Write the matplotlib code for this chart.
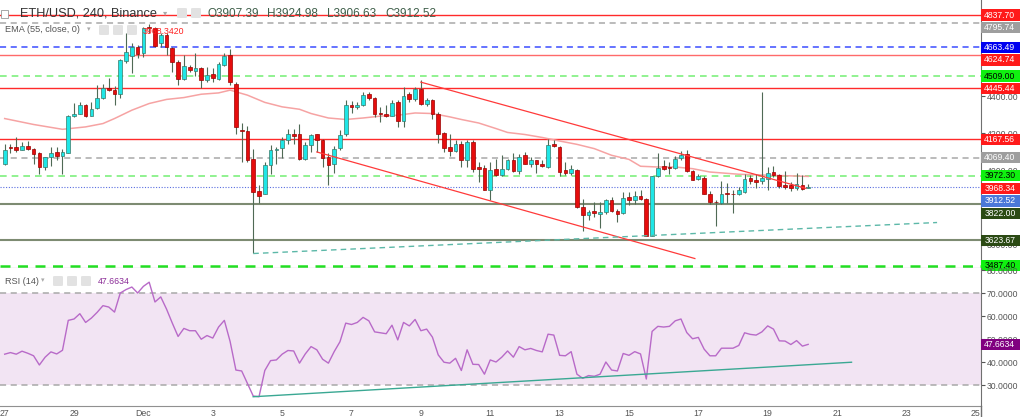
import matplotlib
matplotlib.use('Agg')
import matplotlib.pyplot as plt
from matplotlib.patches import Rectangle, FancyBboxPatch
from matplotlib.lines import Line2D
import numpy as np

plt.rcParams['font.family'] = ['Liberation Sans', 'DejaVu Sans']

# ---- ETH/USD 4h candles (Nov 27 -> Dec 20) ----
opens = [4033, 4125, 4127, 4113, 4132, 4115, 4094, 4019, 4071, 4100,
         4077, 4097, 4296, 4307, 4352, 4296, 4337, 4388, 4445, 4433,
         4411, 4591, 4618, 4667, 4631, 4775, 4766, 4685, 4730, 4661,
         4586, 4491, 4559, 4535, 4550, 4487, 4519, 4491, 4568, 4622,
         4464, 4219, 4213, 4064, 3889, 3875, 4032, 4113, 4124, 4167,
         4199, 4195, 4064, 4136, 4195, 4163, 4073, 4037, 4121, 4199,
         4352, 4340, 4352, 4411, 4391, 4312, 4307, 4294, 4370, 4267,
         4410, 4383, 4438, 4356, 4379, 4307, 4202, 4127, 4105, 4141,
         4055, 4154, 4019, 4013, 3893, 4010, 3974, 4010, 4055, 3997,
         4086, 4037, 4055, 4033, 4019, 4141, 4127, 4001, 3986, 4005,
         3803, 3758, 3780, 3764, 3776, 3839, 3780, 3771, 3857, 3843,
         3861, 3848, 3650, 3969, 4023, 4016, 4016, 4070, 4087, 3997,
         3956, 3962, 3872, 3830, 3825, 3875, 3875, 3871, 3884, 3960,
         3947, 3942, 3956, 3992, 3978, 3924, 3924, 3908, 3920, 3907.39]
highs = [4145, 4145, 4179, 4154, 4158, 4120, 4100, 4073, 4127, 4127,
         4118, 4300, 4364, 4370, 4357, 4370, 4460, 4464, 4499, 4455,
         4599, 4739, 4687, 4676, 4775, 4789, 4775, 4739, 4739, 4667,
         4595, 4622, 4568, 4631, 4559, 4559, 4550, 4586, 4631, 4652,
         4476, 4255, 4239, 4114, 3920, 4046, 4136, 4127, 4181, 4226,
         4221, 4249, 4154, 4199, 4199, 4172, 4093, 4131, 4217, 4379,
         4375, 4370, 4424, 4424, 4397, 4343, 4352, 4379, 4379, 4451,
         4424, 4451, 4487, 4388, 4383, 4316, 4208, 4199, 4163, 4159,
         4163, 4163, 4046, 4028, 4046, 4064, 4082, 4064, 4097, 4091,
         4100, 4073, 4059, 4055, 4172, 4167, 4131, 4046, 4028, 4010,
         3848, 3785, 3830, 3830, 3848, 3857, 3794, 3884, 3884, 3889,
         3897, 3852, 3969, 4094, 4055, 4046, 4077, 4105, 4109, 4005,
         3983, 3969, 3889, 3839, 3942, 3932, 3893, 3911, 3983, 3974,
         3980, 4424, 4019, 4023, 3983, 3997, 3938, 3989, 3974, 3924.98]
lows = [4028, 4093, 4098, 4109, 4109, 4033, 3980, 4005, 4023, 4055,
        3980, 4094, 4289, 4303, 4286, 4293, 4334, 4383, 4429, 4352,
        4393, 4577, 4526, 4604, 4613, 4739, 4667, 4667, 4622, 4532,
        4460, 4487, 4532, 4508, 4442, 4478, 4478, 4487, 4562, 4460,
        4195, 4046, 4046, 3555, 3825, 3872, 3980, 4037, 4070, 4141,
        4141, 4059, 4059, 4100, 4100, 4019, 3924, 3986, 4109, 4185,
        4310, 4334, 4347, 4379, 4289, 4262, 4286, 4293, 4232, 4232,
        4370, 4375, 4352, 4347, 4280, 4149, 4100, 4077, 4100, 4019,
        4019, 3992, 3938, 3893, 3843, 3969, 3969, 4001, 3992, 3983,
        4033, 4019, 3986, 4019, 4016, 4127, 3969, 3974, 3974, 3800,
        3673, 3731, 3749, 3692, 3767, 3776, 3722, 3767, 3812, 3821,
        3843, 3645, 3645, 3965, 4001, 3980, 4010, 4055, 3992, 3947,
        3951, 3872, 3818, 3700, 3821, 3825, 3771, 3866, 3879, 3929,
        3908, 3929, 3897, 3965, 3908, 3902, 3889, 3893, 3893, 3906.63]
closes = [4113, 4124, 4113, 4132, 4115, 4087, 4019, 4071, 4094, 4077,
          4098, 4296, 4305, 4352, 4293, 4334, 4388, 4445, 4433, 4411,
          4595, 4640, 4667, 4627, 4766, 4766, 4670, 4730, 4667, 4586,
          4491, 4562, 4541, 4550, 4487, 4514, 4501, 4573, 4618, 4478,
          4235, 4215, 4055, 3884, 3862, 4032, 4113, 4115, 4167, 4195,
          4188, 4064, 4136, 4190, 4167, 4070, 4032, 4118, 4190, 4352,
          4343, 4352, 4406, 4388, 4307, 4303, 4294, 4366, 4267, 4400,
          4383, 4438, 4356, 4379, 4307, 4199, 4124, 4105, 4141, 4055,
          4154, 4010, 4010, 3897, 4005, 3974, 4010, 4055, 3997, 4073,
          4037, 4055, 4033, 4023, 4136, 4132, 3992, 3986, 4010, 3803,
          3762, 3776, 3771, 3776, 3839, 3780, 3764, 3854, 3843, 3861,
          3846, 3650, 3969, 4016, 4010, 4014, 4064, 4082, 3997, 3951,
          3969, 3875, 3830, 3828, 3875, 3873, 3871, 3893, 3956, 3943,
          3940, 3960, 3989, 3974, 3919, 3911, 3908, 3926, 3902, 3912.52]

# EMA(55) at some candles
ema_idx = [0, 5, 10, 14, 17, 19, 22, 25, 28, 31, 34, 37, 39, 42, 45, 48, 51,
           53, 56, 59, 62, 65, 68, 71, 74, 77, 79, 82, 85, 87, 90, 93, 96, 99,
           102, 105, 108, 110, 113, 116, 119, 122, 127, 133, 139]
ema_val = [4280, 4248, 4222, 4235, 4253, 4280, 4325, 4361, 4383, 4393, 4411,
           4418, 4433, 4406, 4367, 4343, 4330, 4307, 4283, 4275, 4283, 4293,
           4298, 4310, 4307, 4289, 4275, 4256, 4226, 4205, 4194, 4178, 4159,
           4141, 4118, 4082, 4060, 4023, 4019, 4019, 4010, 3992, 3980, 3974,
           3968.34]

rsi = [43.4, 44.1, 43.4, 44.7, 43.8, 42.7, 38.7, 42.1, 44.4, 43.5,
       45.1, 58.1, 58.7, 61.0, 57.2, 59.1, 61.6, 64.5, 63.9, 61.7,
       70.0, 71.5, 72.6, 70.0, 72.9, 74.7, 66.1, 68.3, 63.0, 56.9,
       51.1, 54.6, 53.6, 53.6, 49.9, 51.5, 50.4, 55.2, 58.1, 48.9,
       36.5, 36.1, 30.7, 25.2, 24.9, 36.3, 40.6, 40.9, 43.4, 45.0,
       44.8, 39.5, 43.5, 46.7, 45.3, 41.2, 39.5, 44.5, 48.8, 56.9,
       56.3, 57.2, 59.4, 57.9, 53.1, 52.7, 52.3, 56.0, 49.6, 57.2,
       55.7, 58.5, 53.6, 54.3, 50.8, 43.1, 39.9, 39.5, 41.6, 36.3,
       45.3, 39.0, 38.9, 34.7, 40.9, 40.0, 42.1, 44.8, 42.1, 46.7,
       45.3, 45.9, 45.0, 44.4, 52.1, 51.7, 42.9, 42.7, 44.5, 34.7,
       32.9, 34.1, 33.8, 34.7, 40.0, 36.5, 36.1, 43.7, 42.9, 44.5,
       43.5, 32.6, 53.3, 55.5, 55.2, 55.5, 57.9, 58.7, 52.8, 50.1,
       50.7, 45.6, 42.7, 42.7, 46.0, 46.0, 46.0, 47.2, 52.7, 52.0,
       51.7, 53.1, 55.7, 54.3, 49.2, 49.1, 47.6, 49.3, 46.9, 47.6634]

# horizontal levels and their style kind
levels = [4837.70, 4795.74, 4663.49, 4624.74, 4509.00, 4445.44, 4167.56,
          4069.40, 3972.30, 3912.52, 3822.00, 3623.67, 3487.40]
level_kind = ['red', 'grey', 'blue', 'red2', 'green', 'red', 'red',
              'grey', 'green', 'last', 'dark', 'dark', 'lime']
ema_last = 3968.34
ema_legend = '3968.3420'
rsi_last = 47.6634

# drawn trend lines (candle index, price)
chan_top_x, chan_top_y = [72, 138.6], [4476, 3904]
chan_bot_x, chan_bot_y = [54, 119.4], [4100, 3526]
supp_x, supp_y = [43, 161.3], [3553, 3720]
rsi_supp_x, rsi_supp_y = [43, 146.5], [24.9, 39.9]

price_ticks = [3600, 4000, 4200, 4400]
rsi_ticks = [30, 40, 50, 60, 70, 80]
day_pos = [0, 2, 4, 6, 8, 10, 12, 14, 16, 18, 20, 22, 24, 26, 28]
day_labels = ['27', '29', 'Dec', '3', '5', '7', '9', '11', '13', '15',
              '17', '19', '21', '23', '25']

styles = {
    # line color, linestyle, lw, box color, text color
    'red':   ('#ff2a2a', '-', 1.0, '#ff1a1a', 'white'),
    'red2':  ('#ff6a6a', '-', 1.0, '#ff1a1a', 'white'),
    'grey':  ('#a8a8a8', (0, (4, 3)), 1.1, '#9e9e9e', 'white'),
    'blue':  ('#3a4dff', (0, (4, 3)), 1.1, '#0000f0', 'white'),
    'green': ('#7ef07e', (0, (4, 3)), 1.2, '#10f010', 'black'),
    'lime':  ('#22e022', (0, (4, 3)), 1.8, '#10f010', 'black'),
    'last':  ('#5a6ee0', (0, (1, 1.5)), 0.8, '#4a78d8', 'white'),
    'dark':  ('#7d8b72', '-', 1.5, '#2b4a14', 'white'),
}

W, H = 1024, 417
fig = plt.figure(figsize=(W / 100, H / 100), dpi=100)
fig.patch.set_facecolor('white')

ax = fig.add_axes([0, 149 / H, 981 / W, 268 / H])
ax2 = fig.add_axes([0, 11 / H, 981 / W, 138 / H], sharex=ax)

ymin, ymax = 3475.0, 4918.5
ax.set_ylim(ymin, ymax)
ax.set_xlim(-0.81, 168.9)
ax2.set_ylim(20.87, 80.87)

#----------------------------------------#
# levels
for lv, k in zip(levels, level_kind):
    col, ls, lw, _, _ = styles[k]
    ax.axhline(lv, color=col, ls=ls, lw=lw, zorder=2)

ax.plot(ema_idx, ema_val, color='#f6a3a3', lw=1.1, zorder=2)

# candles
idx = np.arange(len(closes))
o = np.array(opens, float)
c = np.array(closes, float)
hi = np.array(highs, float)
lo = np.array(lows, float)
up = c >= o
ax.vlines(idx, lo, hi, color='#4f6a55', lw=0.8, zorder=3)
body_lo = np.minimum(o, c)
body_h = np.maximum(np.abs(c - o), 4)
ax.bar(idx[up], body_h[up], bottom=body_lo[up], width=0.64,
       color='#1fe6e6', edgecolor='#3a7868', linewidth=0.5, zorder=4)
ax.bar(idx[~up], body_h[~up], bottom=body_lo[~up], width=0.64,
       color='#e60d0d', edgecolor='#9a0000', linewidth=0.5, zorder=4)

# trend lines
ax.plot(chan_top_x, chan_top_y, color='#ff3a3a', lw=0.9, zorder=5)
ax.plot(chan_bot_x, chan_bot_y, color='#ff3a3a', lw=0.9, zorder=5)
ax.plot(supp_x, supp_y, color='#5cb8a8', lw=1.0, ls=(0, (4, 3)), zorder=5)

# price axis
ax.yaxis.tick_right()
ax.set_yticks(price_ticks)
ax.set_yticklabels(['%.2f' % v for v in price_ticks])
ax.tick_params(axis='y', colors='#555555', labelsize=6.2, length=3, pad=1)
ax.tick_params(axis='x', bottom=False, labelbottom=False)
for s in ['top', 'left']:
    ax.spines[s].set_visible(False)
ax.spines['right'].set_color('#707070')
ax.spines['bottom'].set_color('#555555')

# price labels, pushed apart so they don't overlap
ppx = (ymax - ymin) / 268.0
box_h = 11.5 * ppx
gap = 12.6 * ppx
labels = [(lv, styles[k][3], styles[k][4]) for lv, k in zip(levels, level_kind)]
labels.append((ema_last, '#ff1a1a', 'white'))
labels.sort(key=lambda t: -t[0])
prev = None
ytr = ax.get_yaxis_transform()
for lv, bc, tc in labels:
    yp = lv
    if prev is not None and prev - yp < gap:
        yp = prev - gap
    prev = yp
    ax.add_patch(Rectangle((1.0, yp - box_h / 2), 38.6 / 981, box_h,
                           transform=ytr, clip_on=False, fc=bc, ec='none',
                           zorder=6))
    ax.text(1.0 + 3.2 / 981, yp, '%.2f' % lv, transform=ytr, clip_on=False,
            fontsize=6.2, color=tc, va='center', ha='left', zorder=7)

#----------------------------------------#
# RSI panel
ax2.axhspan(30, 70, color='#f2e4f3', lw=0, zorder=0)
ax2.axhline(70, color='#a8a8a8', ls=(0, (4, 3)), lw=1.1, zorder=1)
ax2.axhline(30, color='#a8a8a8', ls=(0, (4, 3)), lw=1.1, zorder=1)
ax2.plot(idx, rsi, color='#b86ac8', lw=1.0, zorder=3)
ax2.plot(rsi_supp_x, rsi_supp_y, color='#3aa893', lw=1.0, zorder=4)

ax2.yaxis.tick_right()
ax2.set_yticks(rsi_ticks)
ax2.set_yticklabels(['%.4f' % v for v in rsi_ticks])
ax2.tick_params(axis='y', colors='#555555', labelsize=6.2, length=3, pad=1)
ax2.set_xticks([6 * d for d in day_pos])
ax2.set_xticklabels(day_labels)
ax2.tick_params(axis='x', colors='#555555', labelsize=6.3, length=0, pad=2)
for s in ['top', 'left']:
    ax2.spines[s].set_visible(False)
ax2.spines['right'].set_color('#707070')
ax2.spines['bottom'].set_color('#909090')

rtr = ax2.get_yaxis_transform()
rb = 10.5 / 2.3
ax2.add_patch(Rectangle((1.0, rsi_last - rb / 2), 38.6 / 981, rb,
                        transform=rtr, clip_on=False, fc='#800080', ec='none',
                        zorder=6))
ax2.text(1.0 + 3.2 / 981, rsi_last, '%.4f' % rsi_last, transform=rtr,
         clip_on=False, fontsize=6.2, color='white', va='center', ha='left',
         zorder=7)

#----------------------------------------#
# header / legends
def fx(px):
    return px / W


def fy(py):
    return 1 - py / H


def icon(x0, y0, w=10, h=10):
    fig.patches.append(FancyBboxPatch((fx(x0), fy(y0 + h)), w / W, h / H,
                                      boxstyle='round,pad=0,rounding_size=0.002',
                                      transform=fig.transFigure, fc='#e2e2e2',
                                      ec='none', zorder=10))


fig.patches.append(Rectangle((fx(1), fy(18)), 7 / W, 8 / H,
                             transform=fig.transFigure, fc='white',
                             ec='#999999', lw=0.6, zorder=10))
fig.text(fx(20), fy(13.5), 'ETH/USD, 240, Binance', fontsize=9.2,
         color='#333333', va='center', ha='left')
fig.text(fx(163), fy(14), '▾', fontsize=6, color='#aaaaaa', va='center')
icon(177, 8)
icon(191, 8)
ohlc = [('O', 3907.39, 207), ('H', 3924.98, 267), ('L', 3906.63, 327),
        ('C', 3912.52, 385)]
for lab, v, px in ohlc:
    fig.text(fx(px), fy(14), '%s%.2f' % (lab, v), fontsize=8.5,
             color='#3f5f4a', va='center', ha='left')

fig.text(fx(5), fy(30), 'EMA (55, close, 0)', fontsize=6.6,
         color='#555555', va='center', ha='left')
fig.text(fx(87), fy(30), '▾', fontsize=5, color='#aaaaaa', va='center')
icon(99, 25)
icon(113, 25)
icon(127, 25)
fig.text(fx(143), fy(31), ema_legend, fontsize=6.3, color='#ff2020',
         va='center', ha='left')

fig.text(fx(5), fy(281), 'RSI (14)', fontsize=6.6, color='#555555',
         va='center', ha='left')
fig.text(fx(41), fy(281), '▾', fontsize=5, color='#aaaaaa', va='center')
icon(53, 276)
icon(67, 276)
icon(81, 276)
fig.text(fx(97.5), fy(281), '%.4f' % rsi_last, fontsize=6.3, color='#8a2a96',
         va='center', ha='left')

fig.lines.append(Line2D([fx(981), fx(981)], [fy(406), fy(417)],
                        transform=fig.transFigure, color='#707070', lw=1))

fig.savefig('out.png', dpi=100)
